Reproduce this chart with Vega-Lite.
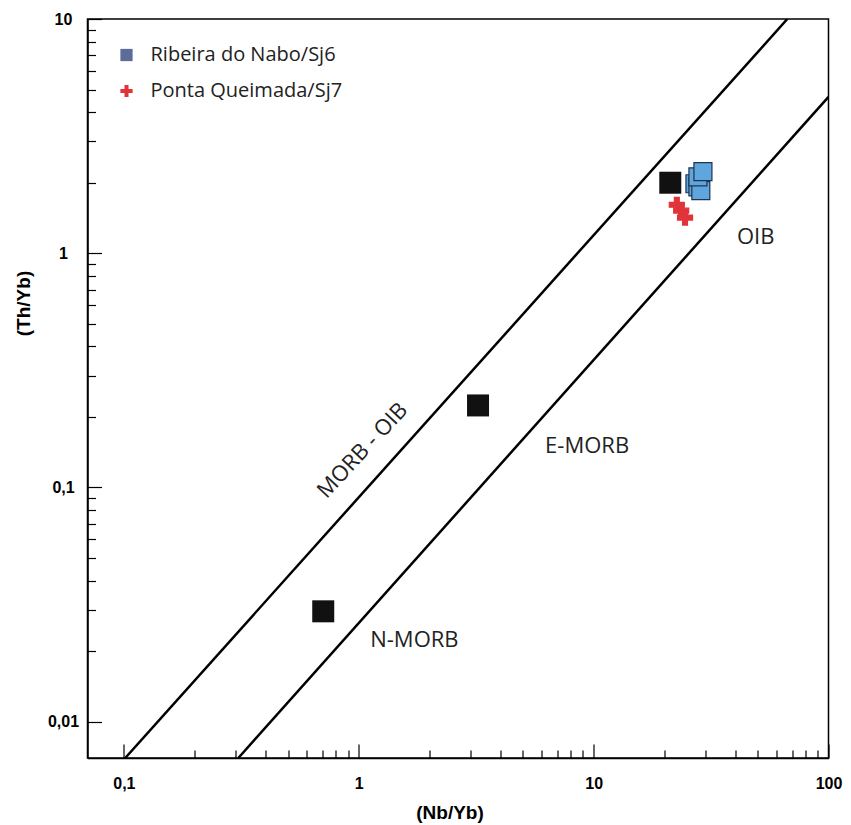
{
  "$schema": "https://vega.github.io/schema/vega-lite/v6.json",
  "autosize": "none",
  "width": 741,
  "height": 739,
  "padding": {"left": 87.5, "top": 19, "right": 22.5, "bottom": 67},
  "background": "white",
  "config": {
    "view": {"stroke": "black", "strokeWidth": 1.5},
    "axis": {
      "grid": false,
      "domainColor": "black",
      "domainWidth": 1.5,
      "tickColor": "black",
      "tickWidth": 1.2,
      "labelFlush": false,
      "labelOverlap": false,
      "titleFont": "Liberation Sans",
      "titleFontWeight": "bold",
      "titleFontSize": 19,
      "titleColor": "black"
    }
  },
  "datasets": {
    "lines": [
      {"line": "upper", "nb": 0.1013, "th": 0.007},
      {"line": "upper", "nb": 66.8, "th": 10},
      {"line": "lower", "nb": 0.307, "th": 0.007},
      {"line": "lower", "nb": 100, "th": 4.65}
    ],
    "refs": [
      {"name": "N-MORB", "nb": 0.706, "th": 0.0296},
      {"name": "E-MORB", "nb": 3.22, "th": 0.224},
      {"name": "OIB", "nb": 21.2, "th": 2.0}
    ],
    "samples": [
      {"site": "Ribeira do Nabo/Sj6", "nb": 27.0, "th": 1.98},
      {"site": "Ribeira do Nabo/Sj6", "nb": 27.8, "th": 1.92},
      {"site": "Ribeira do Nabo/Sj6", "nb": 28.6, "th": 1.85},
      {"site": "Ribeira do Nabo/Sj6", "nb": 27.8, "th": 2.12},
      {"site": "Ribeira do Nabo/Sj6", "nb": 29.2, "th": 2.23},
      {"site": "Ponta Queimada/Sj7", "nb": 22.6, "th": 1.61},
      {"site": "Ponta Queimada/Sj7", "nb": 23.6, "th": 1.52},
      {"site": "Ponta Queimada/Sj7", "nb": 24.5, "th": 1.42}
    ],
    "fieldLabels": [
      {"text": "OIB", "nb": 49.0, "th": 1.177},
      {"text": "E-MORB", "nb": 9.38, "th": 0.150},
      {"text": "N-MORB", "nb": 1.725, "th": 0.0223}
    ],
    "diagLabel": [
      {"text": "MORB - OIB", "nb": 1.037, "th": 0.144}
    ]
  },
  "resolve": {"axis": {"x": "independent", "y": "independent"}},
  "layer": [
    {
      "data": {"name": "lines"},
      "mark": {"type": "line", "color": "black", "strokeWidth": 2.5, "clip": true},
      "encoding": {
        "x": {
          "field": "nb",
          "type": "quantitative",
          "scale": {"type": "log", "domain": [0.07, 100], "nice": false, "zero": false},
          "axis": {
            "orient": "bottom",
            "title": "(Nb/Yb)",
            "values": [0.1, 1, 10, 100],
            "labelExpr": "datum.value == 0.1 ? '0,1' : datum.value == 1 ? '1' : datum.value == 10 ? '10' : '100'",
            "tickSize": -14,
            "labelFont": "Liberation Sans",
            "labelFontWeight": "bold",
            "labelFontSize": 16,
            "labelColor": "black",
            "labelBaseline": "middle",
            "labelPadding": 39,
            "titleBaseline": "middle",
            "titleY": 54,
            "titleX": 362
          }
        },
        "y": {
          "field": "th",
          "type": "quantitative",
          "scale": {"type": "log", "domain": [0.007, 10], "nice": false, "zero": false},
          "axis": {
            "orient": "left",
            "title": "(Th/Yb)",
            "values": [0.01, 0.1, 1, 10],
            "labelExpr": "datum.value == 0.01 ? '0,01' : datum.value == 0.1 ? '0,1' : datum.value == 1 ? '1' : '10'",
            "tickSize": -14,
            "labelFont": "Liberation Sans",
            "labelFontWeight": "bold",
            "labelFontSize": 16,
            "labelColor": "black",
            "labelAlign": "center",
            "labelBaseline": "middle",
            "labelPadding": 38.5,
            "titleAngle": -90,
            "titleAlign": "center",
            "titleBaseline": "middle",
            "titleX": -64.5,
            "titleY": 284
          }
        },
        "detail": {"field": "line", "type": "nominal"}
      }
    },
    {
      "data": {"name": "refs"},
      "mark": {"type": "point", "shape": "square", "filled": true, "opacity": 1, "size": 484, "color": "#111111"},
      "encoding": {
        "x": {
          "field": "nb",
          "type": "quantitative",
          "axis": {
            "orient": "bottom",
            "title": null,
            "labels": false,
            "domain": false,
            "values": [0.2, 0.3, 0.4, 0.5, 0.6, 0.7, 0.8, 0.9, 2, 3, 4, 5, 6, 7, 8, 9, 20, 30, 40, 50, 60, 70, 80, 90],
            "tickSize": -8
          }
        },
        "y": {
          "field": "th",
          "type": "quantitative",
          "axis": {
            "orient": "left",
            "title": null,
            "labels": false,
            "domain": false,
            "values": [0.02, 0.03, 0.04, 0.05, 0.06, 0.07, 0.08, 0.09, 0.2, 0.3, 0.4, 0.5, 0.6, 0.7, 0.8, 0.9, 2, 3, 4, 5, 6, 7, 8, 9],
            "tickSize": -8
          }
        }
      }
    },
    {
      "data": {"name": "samples"},
      "mark": {"type": "point", "filled": true, "opacity": 1, "size": 100, "strokeWidth": 0},
      "encoding": {
        "x": {"field": "nb", "type": "quantitative", "axis": null},
        "y": {"field": "th", "type": "quantitative", "axis": null},
        "color": {
          "field": "site",
          "type": "nominal",
          "scale": {"domain": ["Ribeira do Nabo/Sj6", "Ponta Queimada/Sj7"], "range": ["#5d6b98", "#e0343a"]},
          "legend": {
            "orient": "none",
            "legendX": 29,
            "legendY": 26,
            "title": null,
            "padding": 0,
            "labelFont": "Open Sans",
            "labelFontSize": 20,
            "labelColor": "#222222",
            "labelOffset": 14,
            "labelLimit": 400,
            "rowPadding": 16,
            "symbolSize": 150,
            "symbolStrokeWidth": 0
          }
        },
        "shape": {
          "field": "site",
          "type": "nominal",
          "scale": {"domain": ["Ribeira do Nabo/Sj6", "Ponta Queimada/Sj7"], "range": ["square", "M -0.33,-1 H 0.33 V -0.33 H 1 V 0.33 H 0.33 V 1 H -0.33 V 0.33 H -1 V -0.33 H -0.33 Z"]}
        }
      }
    },
    {
      "data": {"name": "samples"},
      "mark": {"type": "point", "filled": true, "opacity": 1, "strokeWidth": 1.2},
      "encoding": {
        "x": {"field": "nb", "type": "quantitative", "axis": null},
        "y": {"field": "th", "type": "quantitative", "axis": null},
        "shape": {
          "condition": {"test": "datum.site === 'Ribeira do Nabo/Sj6'", "value": "square"},
          "value": "M -0.33,-1 H 0.33 V -0.33 H 1 V 0.33 H 0.33 V 1 H -0.33 V 0.33 H -1 V -0.33 H -0.33 Z"
        },
        "fill": {
          "condition": {"test": "datum.site === 'Ribeira do Nabo/Sj6'", "value": "#5fa6de"},
          "value": "#e0343a"
        },
        "stroke": {
          "condition": {"test": "datum.site === 'Ribeira do Nabo/Sj6'", "value": "#1e3550"},
          "value": "#e0343a"
        },
        "size": {
          "condition": {"test": "datum.site === 'Ribeira do Nabo/Sj6'", "value": 324},
          "value": 225
        }
      }
    },
    {
      "data": {"name": "fieldLabels"},
      "mark": {"type": "text", "font": "Open Sans", "fontSize": 22, "color": "#222222", "align": "center", "baseline": "middle"},
      "encoding": {
        "x": {"field": "nb", "type": "quantitative", "axis": null},
        "y": {"field": "th", "type": "quantitative", "axis": null},
        "text": {"field": "text"}
      }
    },
    {
      "data": {"name": "diagLabel"},
      "mark": {"type": "text", "font": "Open Sans", "fontSize": 22, "color": "#222222", "align": "center", "baseline": "middle", "angle": -47},
      "encoding": {
        "x": {"field": "nb", "type": "quantitative", "axis": null},
        "y": {"field": "th", "type": "quantitative", "axis": null},
        "text": {"field": "text"}
      }
    }
  ]
}
